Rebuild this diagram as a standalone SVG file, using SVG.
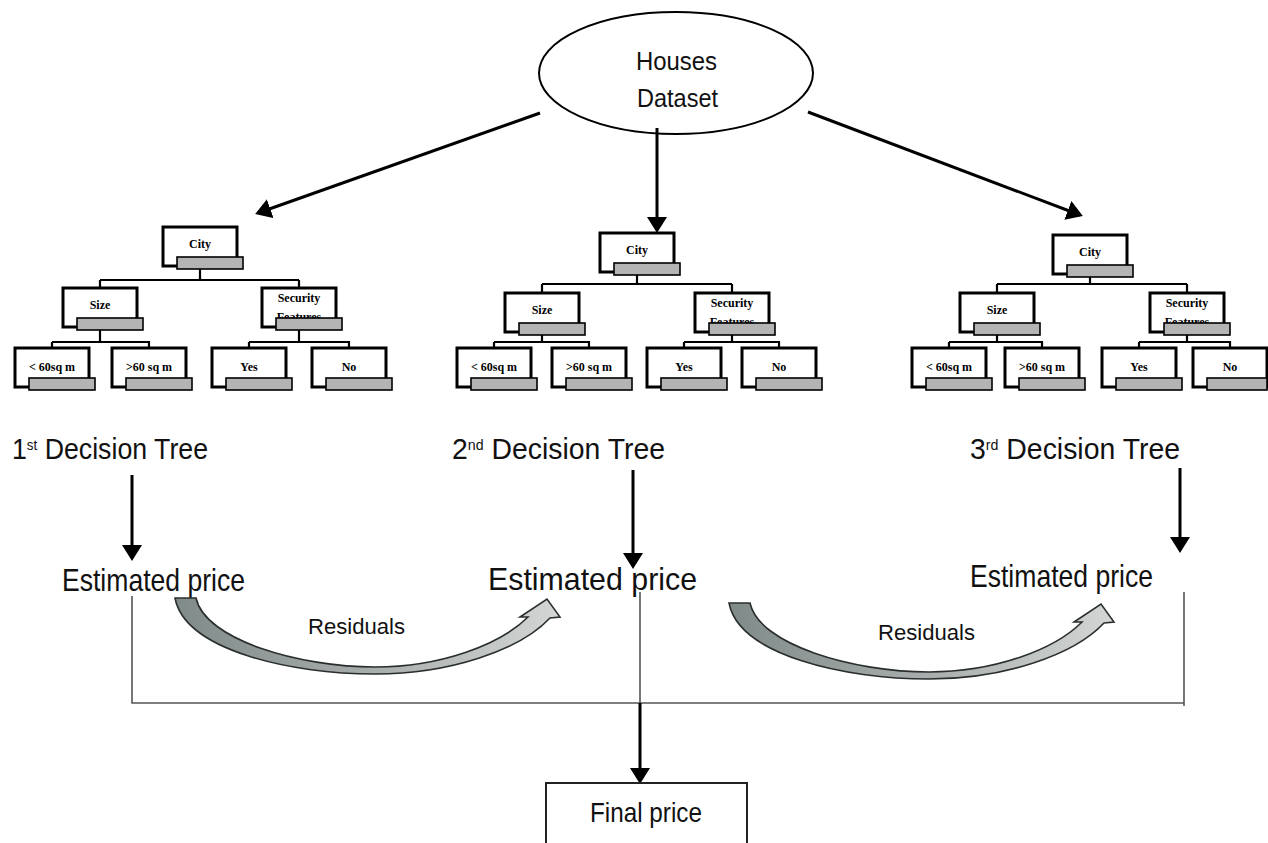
<svg xmlns="http://www.w3.org/2000/svg" width="1268" height="843" viewBox="0 0 1268 843">
<style>
.bx{fill:#fff;stroke:#000;stroke-width:3}
.bar{fill:#b4b4b4;stroke:#000;stroke-width:1.6}
.nt{font-family:"Liberation Serif",serif;font-weight:bold;font-size:12px;fill:#000;text-anchor:middle}
.tl{stroke:#000;stroke-width:2.2;fill:none}
.big{font-family:"Liberation Sans",Arial,sans-serif;fill:#111}
.arr{stroke:#000;stroke-width:3;fill:none;marker-end:url(#ah)}
.thin{stroke:#555;stroke-width:1.6;fill:none}
.res{fill:url(#rg);stroke:#2a2f2e;stroke-width:1.6;stroke-linejoin:miter}
.sup{font-size:15px}
</style>
<defs>
<marker id="ah" markerUnits="userSpaceOnUse" markerWidth="16" markerHeight="20" viewBox="0 0 16 20" refX="13" refY="10" orient="auto">
<path d="M0,0 L16,10 L0,20 z" fill="#000"/>
</marker>
<linearGradient id="rg" x1="0" y1="0" x2="1" y2="0">
<stop offset="0" stop-color="#808b89"/>
<stop offset="0.5" stop-color="#a7adac"/>
<stop offset="1" stop-color="#d3d6d5"/>
</linearGradient>
</defs>
<rect width="1268" height="843" fill="#fff"/>

<g id="dataset">
<ellipse cx="676" cy="73" rx="137" ry="61" fill="#fff" stroke="#000" stroke-width="2"/>
<text class="big" x="636" y="70" font-size="25" textLength="81" lengthAdjust="spacingAndGlyphs">Houses</text>
<text class="big" x="637" y="107" font-size="25" textLength="81" lengthAdjust="spacingAndGlyphs">Dataset</text>
</g>

<g id="connectors">
<line class="arr" x1="540" y1="113" x2="258" y2="213"/>
<line class="arr" x1="657" y1="128" x2="657" y2="230"/>
<line class="arr" x1="808" y1="112" x2="1080" y2="215"/>
<path class="tl" d="M200,269 V280 M100,280 H299 M100,280 V288 M299,280 V288 M100,330 V342 M52,342 H149 V348 M52,342 V348 M299,330 V342 M249,342 H349 V348 M249,342 V348"/>
<path class="tl" d="M637,275 V284 M542,284 H732 M542,284 V293 M732,284 V293 M542,335 V342 M494,342 H589 V348 M494,342 V348 M732,335 V342 M684,342 H779 V348 M684,342 V348"/>
<path class="tl" d="M1090,277 V284 M997,284 H1187 M997,284 V293 M1187,284 V293 M997,335 V342 M949,342 H1042 V348 M949,342 V348 M1187,335 V342 M1139,342 H1230 V348 M1139,342 V348"/>
<line class="arr" x1="132" y1="475" x2="132" y2="558"/>
<line class="arr" x1="633" y1="470" x2="633" y2="566"/>
<line class="arr" x1="1180" y1="468" x2="1180" y2="550"/>
<path class="thin" d="M132,596 V703 H1184 M640,592 V703 M1184,592 V706"/>
<line class="arr" x1="640" y1="703" x2="640" y2="781"/>
</g>

<g id="tree1">
<g id="t1-city"><rect class="bx" x="163" y="227" width="74" height="39"/><text class="nt" x="200" y="248">City</text><rect class="bar" x="177" y="257" width="66" height="12"/></g>
<g id="t1-size"><rect class="bx" x="63" y="288" width="74" height="39"/><text class="nt" x="100" y="309">Size</text><rect class="bar" x="77" y="318" width="66" height="12"/></g>
<g id="t1-sec"><rect class="bx" x="262" y="288" width="74" height="39"/><text class="nt" x="299" y="302">Security</text><text class="nt" x="299" y="321">Features</text><rect class="bar" x="276" y="318" width="66" height="12"/></g>
<g id="t1-l1"><rect class="bx" x="15" y="348" width="74" height="39"/><text class="nt" x="52" y="371">&lt; 60sq m</text><rect class="bar" x="29" y="378" width="66" height="12"/></g>
<g id="t1-l2"><rect class="bx" x="112" y="348" width="74" height="39"/><text class="nt" x="149" y="371">&gt;60 sq m</text><rect class="bar" x="126" y="378" width="66" height="12"/></g>
<g id="t1-l3"><rect class="bx" x="212" y="348" width="74" height="39"/><text class="nt" x="249" y="371">Yes</text><rect class="bar" x="226" y="378" width="66" height="12"/></g>
<g id="t1-l4"><rect class="bx" x="312" y="348" width="74" height="39"/><text class="nt" x="349" y="371">No</text><rect class="bar" x="326" y="378" width="66" height="12"/></g>
</g>

<g id="tree2">
<g id="t2-city"><rect class="bx" x="600" y="233" width="74" height="39"/><text class="nt" x="637" y="254">City</text><rect class="bar" x="614" y="263" width="66" height="12"/></g>
<g id="t2-size"><rect class="bx" x="505" y="293" width="74" height="39"/><text class="nt" x="542" y="314">Size</text><rect class="bar" x="519" y="323" width="66" height="12"/></g>
<g id="t2-sec"><rect class="bx" x="695" y="293" width="74" height="39"/><text class="nt" x="732" y="307">Security</text><text class="nt" x="732" y="326">Features</text><rect class="bar" x="709" y="323" width="66" height="12"/></g>
<g id="t2-l1"><rect class="bx" x="457" y="348" width="74" height="39"/><text class="nt" x="494" y="371">&lt; 60sq m</text><rect class="bar" x="471" y="378" width="66" height="12"/></g>
<g id="t2-l2"><rect class="bx" x="552" y="348" width="74" height="39"/><text class="nt" x="589" y="371">&gt;60 sq m</text><rect class="bar" x="566" y="378" width="66" height="12"/></g>
<g id="t2-l3"><rect class="bx" x="647" y="348" width="74" height="39"/><text class="nt" x="684" y="371">Yes</text><rect class="bar" x="661" y="378" width="66" height="12"/></g>
<g id="t2-l4"><rect class="bx" x="742" y="348" width="74" height="39"/><text class="nt" x="779" y="371">No</text><rect class="bar" x="756" y="378" width="66" height="12"/></g>
</g>

<g id="tree3">
<g id="t3-city"><rect class="bx" x="1053" y="235" width="74" height="39"/><text class="nt" x="1090" y="256">City</text><rect class="bar" x="1067" y="265" width="66" height="12"/></g>
<g id="t3-size"><rect class="bx" x="960" y="293" width="74" height="39"/><text class="nt" x="997" y="314">Size</text><rect class="bar" x="974" y="323" width="66" height="12"/></g>
<g id="t3-sec"><rect class="bx" x="1150" y="293" width="74" height="39"/><text class="nt" x="1187" y="307">Security</text><text class="nt" x="1187" y="326">Features</text><rect class="bar" x="1164" y="323" width="66" height="12"/></g>
<g id="t3-l1"><rect class="bx" x="912" y="348" width="74" height="39"/><text class="nt" x="949" y="371">&lt; 60sq m</text><rect class="bar" x="926" y="378" width="66" height="12"/></g>
<g id="t3-l2"><rect class="bx" x="1005" y="348" width="74" height="39"/><text class="nt" x="1042" y="371">&gt;60 sq m</text><rect class="bar" x="1019" y="378" width="66" height="12"/></g>
<g id="t3-l3"><rect class="bx" x="1102" y="348" width="74" height="39"/><text class="nt" x="1139" y="371">Yes</text><rect class="bar" x="1116" y="378" width="66" height="12"/></g>
<g id="t3-l4"><rect class="bx" x="1193" y="348" width="74" height="39"/><text class="nt" x="1230" y="371">No</text><rect class="bar" x="1207" y="378" width="60" height="12"/></g>
</g>

<g id="labels">
<text class="big" x="12" y="459" font-size="30" textLength="196" lengthAdjust="spacingAndGlyphs">1<tspan class="sup" dy="-9">st</tspan><tspan dy="9"> Decision Tree</tspan></text>
<text class="big" x="452" y="459" font-size="30" textLength="213" lengthAdjust="spacingAndGlyphs">2<tspan class="sup" dy="-9">nd</tspan><tspan dy="9"> Decision Tree</tspan></text>
<text class="big" x="970" y="459" font-size="30" textLength="210" lengthAdjust="spacingAndGlyphs">3<tspan class="sup" dy="-9">rd</tspan><tspan dy="9"> Decision Tree</tspan></text>
</g>

<g id="est1"><text class="big" x="62" y="591" font-size="32" textLength="183" lengthAdjust="spacingAndGlyphs">Estimated price</text></g>
<g id="est2"><text class="big" x="488" y="590" font-size="32" textLength="209" lengthAdjust="spacingAndGlyphs">Estimated price</text></g>
<g id="est3"><text class="big" x="970" y="587" font-size="32" textLength="183" lengthAdjust="spacingAndGlyphs">Estimated price</text></g>

<g id="residuals1">
<path class="res" d="M175,598 L196,598 C205,640 300,667 375,667 C440,667 500,645 528,617 L520,617 L547,599 L560,617 L550,618 C520,650 450,674 375,674 C290,674 185,650 175,598 Z"/>
<text class="big" x="308" y="634" font-size="22" textLength="97" lengthAdjust="spacingAndGlyphs">Residuals</text>
</g>
<g id="residuals2">
<path class="res" transform="translate(554,5)" d="M175,598 L196,598 C205,640 300,667 375,667 C440,667 500,645 528,617 L520,617 L547,599 L560,617 L550,618 C520,650 450,674 375,674 C290,674 185,650 175,598 Z"/>
<text class="big" x="878" y="640" font-size="22" textLength="97" lengthAdjust="spacingAndGlyphs">Residuals</text>
</g>

<g id="final">
<rect x="546" y="783" width="201" height="70" fill="#fff" stroke="#222" stroke-width="2"/>
<text class="big" x="590" y="822" font-size="28" textLength="112" lengthAdjust="spacingAndGlyphs">Final price</text>
</g>
</svg>
